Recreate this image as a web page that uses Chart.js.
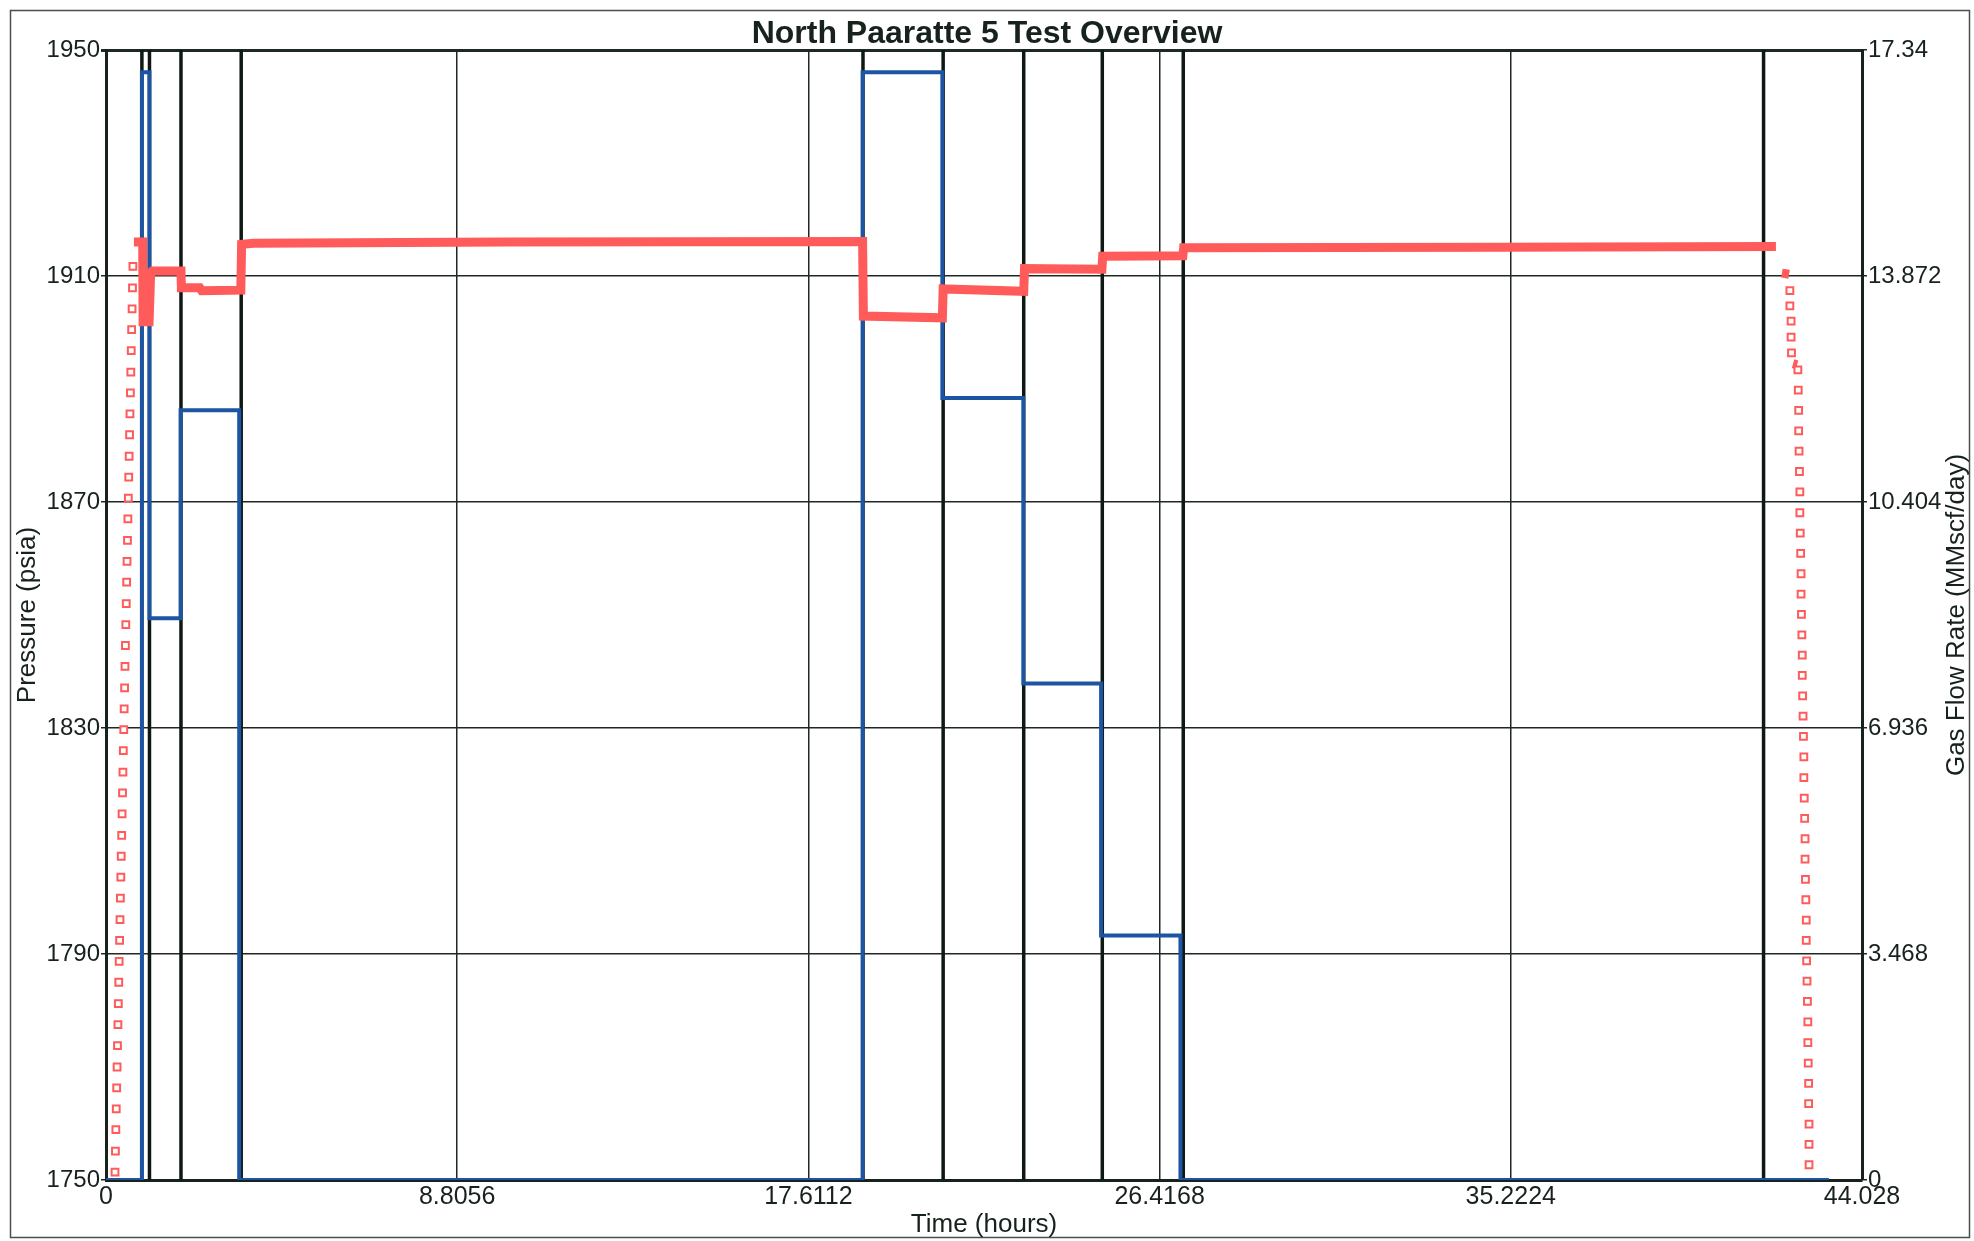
<!DOCTYPE html>
<html>
<head>
<meta charset="utf-8">
<title>North Paaratte 5 Test Overview</title>
<script src="https://cdn.jsdelivr.net/npm/chart.js@4/dist/chart.umd.min.js"></script>
<style>
  html, body { margin: 0; padding: 0; background: #ffffff; }
  canvas { display: block; }
</style>
</head>
<body>
<canvas id="chart" width="1974" height="1241"></canvas>
<script>
// ---- chart text ----
const chartTitle = 'North Paaratte 5 Test Overview';
const xTitle = 'Time (hours)';
const yTitle = 'Pressure (psia)';
const y1Title = 'Gas Flow Rate (MMscf/day)';

// ---- tick values and labels ----
const xTickValues = [0, 8.8056, 17.6112, 26.4168, 35.2224, 44.028];
const xTickLabels = ['0', '8.8056', '17.6112', '26.4168', '35.2224', '44.028'];
const pTickValues = [1750, 1790, 1830, 1870, 1910, 1950];
const pTickLabels = ['1750', '1790', '1830', '1870', '1910', '1950'];
const qTickValues = [0, 3.468, 6.936, 10.404, 13.872, 17.34];
const qTickLabels = ['0', '3.468', '6.936', '10.404', '13.872', '17.34'];

// ---- flow period boundaries (hours) ----
const eventTimes = [0.90, 1.09, 1.88, 3.39, 18.98, 20.99, 23.01, 24.98, 27.01, 41.56];

// ---- gas flow rate, step history (hours, MMscf/day) ----
const gasTime = [0, 0.90, 0.90, 1.09, 1.09, 1.87, 1.87, 3.34, 3.34, 18.97, 18.97, 20.97, 20.97, 23.00, 23.00, 24.95, 24.95, 26.94, 26.94, 43.20];
const gasRate = [0, 0, 17.00, 17.00, 8.62, 8.62, 11.81, 11.81, 0, 0, 17.00, 17.00, 12.00, 12.00, 7.62, 7.62, 3.75, 3.75, 0, 0];

// ---- gauge pressure, continuous record (hours, psia); null = gap ----
const presTime = [0.70, 0.92, 0.93, 1.08, 1.12, 1.16, 1.88, 1.89, 2.35, 2.40, 3.38, 3.40, 3.70, 10.00, 18.97, 18.99, 20.97, 20.99, 23.01, 23.03, 24.97, 24.99, 27.00, 27.02, 35.00, 41.87, 41.95, 42.02, 42.20, 42.25, 42.30, 42.40];
const presValue = [1916.0, 1916.0, 1901.9, 1901.9, 1910.6, 1910.9, 1910.9, 1907.9, 1907.9, 1907.4, 1907.5, 1915.6, 1915.8, 1916.0, 1916.1, 1902.9, 1902.6, 1907.7, 1907.3, 1911.3, 1911.2, 1913.5, 1913.6, 1915.0, 1915.1, 1915.2, null, 1910.5, 1910.3, null, 1894.5, 1894.3];

// ---- gauge pressure, sparse samples while running in / pulling out (hours, psia) ----
const stationTime = [
  0.226, 0.236, 0.247, 0.257, 0.268, 0.278, 0.288, 0.299, 0.309, 0.320,
  0.330, 0.341, 0.351, 0.361, 0.372, 0.382, 0.393, 0.403, 0.414, 0.424,
  0.434, 0.445, 0.455, 0.466, 0.476, 0.487, 0.497, 0.508, 0.518, 0.528,
  0.539, 0.549, 0.560, 0.570, 0.580, 0.591, 0.601, 0.612, 0.622, 0.633,
  0.643, 0.654, 0.664, 0.675,
  42.22, 42.22, 42.25, 42.25, 42.26,
  42.42, 42.43, 42.44, 42.44, 42.45, 42.46, 42.47, 42.47, 42.48, 42.49,
  42.50, 42.50, 42.51, 42.52, 42.53, 42.53, 42.54, 42.55, 42.56, 42.57,
  42.57, 42.58, 42.59, 42.60, 42.60, 42.61, 42.62, 42.63, 42.63, 42.64,
  42.65, 42.66, 42.67, 42.67, 42.68, 42.69, 42.69, 42.70, 42.70, 42.70
];
const stationPres = [
  1751.4, 1755.1, 1758.9, 1762.6, 1766.3, 1770.0, 1773.8, 1777.5, 1781.2, 1785.0,
  1788.7, 1792.4, 1796.1, 1799.9, 1803.6, 1807.3, 1811.0, 1814.8, 1818.5, 1822.2,
  1826.0, 1829.7, 1833.4, 1837.1, 1840.9, 1844.6, 1848.3, 1852.0, 1855.8, 1859.5,
  1863.2, 1867.0, 1870.7, 1874.4, 1878.1, 1881.9, 1885.6, 1889.3, 1893.0, 1896.8,
  1900.5, 1904.2, 1907.9, 1911.7,
  1907.4, 1904.7, 1902.0, 1899.2, 1896.4,
  1893.4, 1889.8, 1886.2, 1882.6, 1879.0, 1875.4, 1871.8, 1868.1, 1864.5, 1860.9,
  1857.3, 1853.7, 1850.1, 1846.5, 1842.9, 1839.3, 1835.7, 1832.1, 1828.5, 1824.9,
  1821.2, 1817.6, 1814.0, 1810.4, 1806.8, 1803.2, 1799.6, 1796.0, 1792.4, 1788.8,
  1785.2, 1781.6, 1778.0, 1774.3, 1770.7, 1767.1, 1763.5, 1759.9, 1756.3, 1752.7
];

// ---- build library datasets from the arrays above ----
const pMin = pTickValues[0], pMax = pTickValues[pTickValues.length - 1];
const eventData = [];
eventTimes.forEach(t => {
  eventData.push({ x: t, y: pMin }, { x: t, y: pMax }, { x: t, y: null });
});
const gasData = gasTime.map((t, i) => ({ x: t, y: gasRate[i] }));
const presData = presTime.map((t, i) => ({ x: t, y: presValue[i] }));
const stationData = stationTime.map((t, i) => ({ x: t, y: stationPres[i] }));

const FONT = "'Liberation Sans', Arial, Helvetica, sans-serif";
const INK = '#17221c';
const GRID = '#1f2923';
const RED = '#ff5b5b';
const BLUE = '#1d55a2';

// page background and the thin frame round the whole figure
const framePlugin = {
  id: 'frame',
  beforeDraw(chart) {
    const c = chart.ctx;
    c.save();
    c.fillStyle = '#ffffff';
    c.fillRect(0, 0, chart.width, chart.height);
    c.strokeStyle = '#4a4f4c';
    c.lineWidth = 1.5;
    c.strokeRect(10.5, 10.5, chart.width - 15, chart.height - 14);
    c.restore();
  }
};

// right-axis title, reading bottom to top like the left one
const rightTitlePlugin = {
  id: 'rightTitle',
  afterDraw(chart) {
    const c = chart.ctx;
    const area = chart.chartArea;
    c.save();
    c.translate(chart.width - 17, (area.top + area.bottom) / 2);
    c.rotate(-Math.PI / 2);
    c.textAlign = 'center';
    c.textBaseline = 'middle';
    c.fillStyle = INK;
    c.font = '26px ' + FONT;
    c.fillText(y1Title, 0, 0);
    c.restore();
  }
};

new Chart(document.getElementById('chart'), {
  type: 'line',
  data: {
    datasets: [
      {
        label: 'Pressure samples',
        data: stationData,
        yAxisID: 'y',
        showLine: false,
        pointStyle: 'rect',
        pointRadius: 4.8,
        pointBorderWidth: 2,
        pointBorderColor: RED,
        pointBackgroundColor: '#ffffff',
        order: 0
      },
      {
        label: 'Pressure',
        data: presData,
        yAxisID: 'y',
        borderColor: RED,
        borderWidth: 9,
        borderJoinStyle: 'miter',
        borderCapStyle: 'butt',
        pointRadius: 0,
        spanGaps: false,
        tension: 0,
        order: 1
      },
      {
        label: 'Gas Flow Rate',
        data: gasData,
        yAxisID: 'y1',
        borderColor: BLUE,
        borderWidth: 4,
        borderJoinStyle: 'miter',
        pointRadius: 0,
        tension: 0,
        order: 2
      },
      {
        label: 'Flow periods',
        data: eventData,
        yAxisID: 'y',
        borderColor: '#0f1914',
        borderWidth: 3.5,
        pointRadius: 0,
        spanGaps: false,
        tension: 0,
        order: 3
      }
    ]
  },
  options: {
    responsive: false,
    animation: false,
    devicePixelRatio: 1,
    layout: { padding: 0 },
    events: [],
    plugins: {
      legend: { display: false },
      tooltip: { enabled: false },
      title: {
        display: true,
        text: chartTitle,
        color: INK,
        font: { family: FONT, size: 32, weight: 'bold', lineHeight: 1.0 },
        padding: { top: 18, bottom: 0 }
      }
    },
    scales: {
      x: {
        type: 'linear',
        position: 'bottom',
        min: xTickValues[0],
        max: xTickValues[xTickValues.length - 1],
        afterBuildTicks: s => { s.ticks = xTickValues.map(v => ({ value: v })); },
        afterFit: s => { s.height = 61; },
        ticks: {
          autoSkip: false,
          maxRotation: 0,
          padding: 2,
          color: INK,
          font: { family: FONT, size: 25 },
          callback: v => xTickLabels[xTickValues.indexOf(v)]
        },
        grid: { color: GRID, lineWidth: 1.5, drawTicks: false },
        border: { display: true, color: INK, width: 3 },
        title: {
          display: true,
          text: xTitle,
          color: INK,
          font: { family: FONT, size: 26 },
          padding: { top: 0, bottom: 1 }
        }
      },
      y: {
        type: 'linear',
        position: 'left',
        min: pMin,
        max: pMax,
        afterBuildTicks: s => { s.ticks = pTickValues.map(v => ({ value: v })); },
        afterFit: s => { s.width = 106; },
        ticks: {
          padding: 1,
          color: INK,
          font: { family: FONT, size: 24 },
          callback: v => pTickLabels[pTickValues.indexOf(v)]
        },
        grid: {
          color: GRID,
          lineWidth: c => (c.tick && c.tick.value === pMax ? 3 : 1.5),
          tickLength: 5
        },
        border: { display: true, color: INK, width: 3 },
        title: {
          display: true,
          text: yTitle,
          color: INK,
          font: { family: FONT, size: 26 },
          padding: { top: 12, bottom: 0 }
        }
      },
      y1: {
        type: 'linear',
        position: 'right',
        min: qTickValues[0],
        max: qTickValues[qTickValues.length - 1],
        afterBuildTicks: s => { s.ticks = qTickValues.map(v => ({ value: v })); },
        afterFit: s => { s.width = 112; },
        ticks: {
          padding: 1,
          color: INK,
          font: { family: FONT, size: 24 },
          callback: v => qTickLabels[qTickValues.indexOf(v)]
        },
        grid: { drawOnChartArea: false, color: GRID, lineWidth: 1.5, tickLength: 5 },
        border: { display: true, color: INK, width: 3 }
      }
    }
  },
  plugins: [framePlugin, rightTitlePlugin]
});
</script>
</body>
</html>
